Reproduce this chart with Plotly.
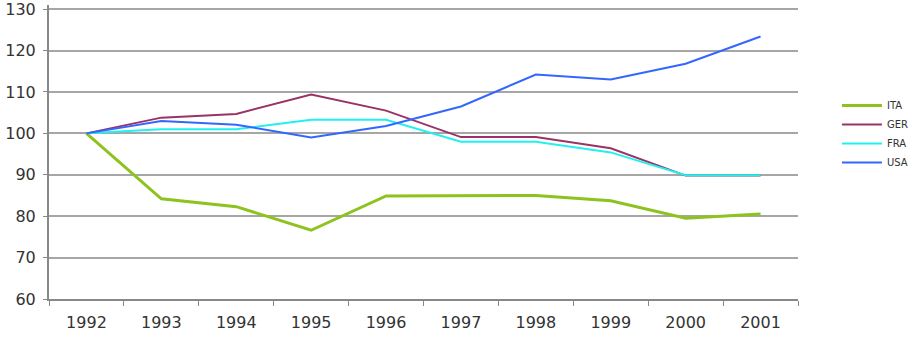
import plotly.graph_objects as go

years = ["1992", "1993", "1994", "1995", "1996", "1997", "1998", "1999", "2000", "2001"]
ita = [100, 84.2, 82.3, 76.6, 84.9, 85.0, 85.0, 83.7, 79.5, 80.5]
ger = [100, 103.8, 104.7, 109.4, 105.5, 99.1, 99.1, 96.4, 89.8, 89.8]
fra = [100, 101.0, 101.0, 103.3, 103.3, 98.0, 98.0, 95.4, 89.9, 89.9]
usa = [100, 103.0, 102.1, 99.0, 101.8, 106.5, 114.2, 113.0, 116.8, 123.4]
y_ticks = [60, 70, 80, 90, 100, 110, 120, 130]

series = [
    ("ITA", ita, "#8DC21F", 3),
    ("GER", ger, "#993366", 2),
    ("FRA", fra, "#22F0F0", 2),
    ("USA", usa, "#3366FF", 2),
]

fig = go.Figure()
for name, vals, col, w in series:
    fig.add_trace(go.Scatter(x=years, y=vals, name=name, mode="lines",
                             line=dict(color=col, width=w)))

fig.update_layout(
    width=913, height=337,
    margin=dict(l=49, r=115, t=5, b=38, autoexpand=False),
    paper_bgcolor="white", plot_bgcolor="white",
    font=dict(family="DejaVu Sans", color="#333333"),
    legend=dict(x=1.052, y=0.561, xanchor="left", yanchor="middle",
                font=dict(size=10, color="#333333"), itemwidth=40,
                tracegroupgap=0, bgcolor="rgba(0,0,0,0)"),
    showlegend=True,
)
fig.update_xaxes(type="category", range=[-0.5, 9.5], tickson="boundaries",
                 ticks="outside", ticklen=5, tickcolor="#888888",
                 showline=True, linecolor="#888888", linewidth=2,
                 showgrid=False, tickfont=dict(size=16, color="#333333"),
                 ticklabelstandoff=8, fixedrange=True, automargin=False)
fig.update_yaxes(range=[60, 131], tickvals=y_ticks, ticks="outside", ticklen=4,
                 tickcolor="#888888", showline=True, linecolor="#888888",
                 linewidth=2, gridcolor="#A6A6A6", gridwidth=1.5,
                 tickfont=dict(size=16, color="#333333"), zeroline=False,
                 ticklabelstandoff=4, automargin=False, ticklabeloverflow="allow")

fig.write_html("out.html", config={"displayModeBar": False},
               post_script="document.body.style.margin='0';document.body.style.overflow='hidden';")
